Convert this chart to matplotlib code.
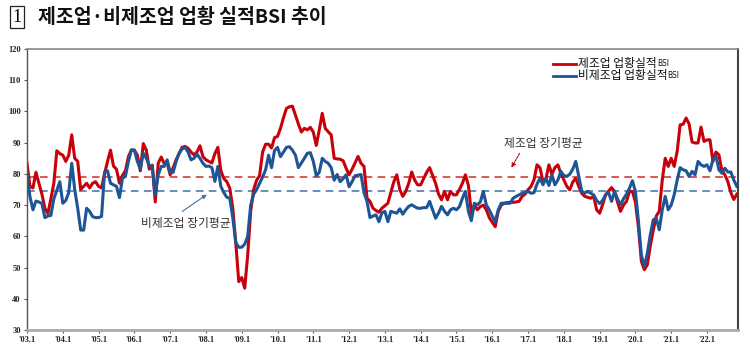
import matplotlib.pyplot as plt
import numpy as np

# 업황실적 BSI, 월별 (2003.1 ~ 2022.11)
mfg = [
    83.4, 76, 75.5, 80.5, 77, 73.5, 69, 67.3, 72, 77, 87.4, 86.5,          # 2003
    86, 84, 86, 92.5, 85, 84, 75, 76, 77, 75.5, 77, 77.5,                  # 2004
    76, 75.5, 80, 84, 87.6, 82.5, 81.5, 77, 79.5, 81, 85.5, 87.6,          # 2005
    87.6, 86, 81, 89.7, 87.6, 81.5, 82.8, 71, 83.4, 85.4, 83.3, 83.5,      # 2006
    79.7, 82, 84.5, 86.5, 88.5, 88.8, 88.2, 87, 86.1, 87, 89, 85.5,        # 2007
    84.5, 84, 83.5, 86.5, 88.5, 81, 78.5, 77.5, 75.4, 69, 58, 45.5,        # 2008
    46.8, 43.4, 54, 68, 75, 78, 79.5, 87, 89.5, 89.5, 88.3, 91.6,          # 2009
    92, 94.6, 98, 101, 101.5, 101.7, 98.8, 96, 93.4, 94.6, 94.1, 94.9,     # 2010
    93.4, 89.1, 94.1, 99.4, 94.6, 93.5, 92.5, 85, 84.8, 84.7, 84.2, 81.8,  # 2011
    79.7, 81.5, 83.5, 85.6, 83.4, 82.4, 72.2, 71.2, 69, 68.3, 67.7, 69,    # 2012
    69.8, 70.6, 74, 77.5, 79.7, 75, 72.8, 74.4, 77, 80.6, 78, 76.5,        # 2013
    76.5, 78.5, 80.5, 82, 79.5, 77, 73.5, 71.7, 74.4, 71.7, 74.4, 73.3,    # 2014
    73.3, 75, 77, 79.7, 76.3, 67.4, 70, 68.5, 69.5, 70, 68.5, 66,          # 2015
    64.5, 63.1, 68, 70, 70.6, 70.8, 70.9, 70.9, 71, 71.2, 72.8, 73.5,      # 2016
    74.9, 76, 78.1, 82.9, 82, 77.6, 78.4, 82.9, 79.9, 82, 82.9, 80.2,      # 2017
    78.1, 76, 74.9, 77.4, 78.6, 76, 73.8, 72.8, 72.5, 72.2, 72.8, 68.5,    # 2018
    67.4, 70.1, 73.3, 74.5, 75.6, 74.4, 71, 68, 70, 71.2, 74.4, 74.4,      # 2019
    71, 63, 52, 49.3, 50.9, 57, 62, 66.5, 68, 78, 85, 82.4,                # 2020
    85, 82.4, 87.2, 95.7, 95.9, 97.9, 96, 90.2, 89.9, 89.9, 95, 90.4,      # 2021
    90.9, 90.9, 84, 87, 86.1, 81, 79.7, 77.5, 74, 71.8, 73.5,              # 2022
]
non_mfg = [
    80, 72.7, 68.5, 71.3, 71, 70.5, 66, 66.5, 66.7, 72, 74.8, 77.5,        # 2003
    70.6, 71.5, 74, 83.4, 75, 69, 62, 62, 69, 68, 66.3, 66,                # 2004
    66, 66.4, 80.5, 81, 77, 76.5, 76, 72.4, 78.6, 79.2, 84, 87.7,          # 2005
    87.6, 84, 81.6, 86.6, 85, 82.7, 82.4, 73.3, 79.7, 82.4, 82.4, 84.5,    # 2006
    80.5, 80.5, 84, 86.6, 88, 88.5, 87, 84.5, 85, 86.3, 85, 83.4,          # 2007
    82.4, 82.5, 82, 77.6, 82.4, 76, 74, 72.5, 72.2, 66, 58, 56.5,          # 2008
    56.5, 57.5, 60, 70, 73.5, 75, 77, 79, 81.3, 86, 82, 87.5,              # 2009
    88.5, 85.5, 87, 88.5, 88.7, 87.6, 86, 82, 83.5, 85, 86.6, 86.8,        # 2010
    84, 79.4, 80.5, 85, 84, 83.4, 82, 78, 79.8, 77.5, 78.5, 79.7,          # 2011
    75.9, 77.5, 79.4, 79.6, 79.8, 74, 71.2, 66, 66.5, 66.9, 64.7, 67.5,    # 2012
    68, 64.7, 68, 67.7, 67.4, 68.8, 67.1, 68.5, 69.6, 70.1, 69.5, 69,      # 2013
    69, 69.2, 69.2, 71.2, 68.5, 65.8, 67.5, 69.6, 68, 66.9, 68.5, 69,      # 2014
    68.5, 69.5, 72.2, 74.4, 68, 65, 70.6, 70.1, 71, 74.4, 70.1, 68.5,      # 2015
    66.5, 64.7, 68.5, 70.6, 70.6, 70.6, 70.6, 72.2, 72.8, 73.3, 73.8, 74,  # 2016
    74.4, 73.8, 74, 76.7, 78.6, 76.5, 78.6, 76.3, 79.7, 76.5, 78, 80.8,    # 2017
    79.5, 79.2, 79.9, 81.5, 84, 79.2, 74.5, 73.8, 74.4, 73.8, 73.3, 71.5,  # 2018
    70.5, 71.5, 73.3, 74, 71.2, 74.4, 72, 70.1, 72, 73.5, 75.4, 77.8,      # 2019
    74.4, 65, 54, 50.3, 54.6, 60.5, 65.3, 65.8, 62.1, 68.5, 72.8, 68.5,    # 2020
    70, 73.3, 78, 82, 81.3, 81, 79.2, 80.8, 79.7, 84, 82.9, 82.4,          # 2021
    82.9, 81, 84.5, 85.8, 81.3, 80.2, 81.8, 80.6, 80.6, 78, 76,            # 2022
]
mfg_avg = 79.1
non_mfg_avg = 74.6
years = ["'%02d.1" % (y % 100) for y in range(2003, 2023)]

red = '#C8000A'
blue = '#1D5596'
kfont = ['Noto Sans CJK KR', 'DejaVu Sans']

fig = plt.figure(figsize=(7.5, 3.53), dpi=100)
ax = fig.add_axes([27/750, 1-330/353, 711/750, 281/353])

x = np.arange(len(mfg))
ax.axhline(mfg_avg, color='#D42A2A', lw=1.1, ls=(0, (5, 3.5)))
ax.axhline(non_mfg_avg, color='#3F6FAE', lw=1.1, ls=(0, (5, 3.5)))
ax.plot(x, mfg, color=red, lw=2.2, solid_joinstyle='round')
ax.plot(np.arange(len(non_mfg)), non_mfg, color=blue, lw=2.2, solid_joinstyle='round')

ax.set_xlim(0, len(mfg) - 0.6)
ax.set_ylim(30, 120)
ax.set_yticks(range(30, 121, 10))
ax.set_xticks(range(0, len(mfg), 12))
ax.set_xticklabels(years)
for lab in ax.get_yticklabels() + ax.get_xticklabels():
    lab.set_fontfamily('Liberation Serif')
    lab.set_fontweight('bold')
    lab.set_fontsize(6)
    lab.set_color('#222222')
ax.tick_params(axis='both', length=2.5, width=0.8, color='#555555', pad=2)

ax.spines['left'].set_color('#555555')
ax.spines['left'].set_linewidth(1)
ax.spines['bottom'].set_color('#AAAAAA')
ax.spines['bottom'].set_linewidth(2)
ax.spines['top'].set_color('#888888')
ax.spines['top'].set_linewidth(1.2)
ax.spines['right'].set_color('#444444')
ax.spines['right'].set_linewidth(1.5)

# legend
def to_ax(px, py):
    return ((px - 27) / 711, (330 - py) / 281)

for py, col, lab in [(64, red, '제조업 업황실적'), (76, blue, '비제조업 업황실적')]:
    x0, y0 = to_ax(553, py)
    x1, _ = to_ax(576, py)
    ax.plot([x0, x1], [y0, y0], color=col, lw=2, transform=ax.transAxes, clip_on=False)
    tx, _ = to_ax(578, py)
    t = ax.text(tx, y0, lab, transform=ax.transAxes, fontsize=8.5, family=kfont,
                va='center', ha='left', color='#111111')
    ax.annotate('BSI', xy=(1, 0.22), xycoords=t, fontsize=5.5, family='DejaVu Sans',
                va='bottom', ha='left', color='#111111')

# long-run average annotations
tx, ty = to_ax(543, 143)
ax.text(tx, ty, '제조업 장기평균', transform=ax.transAxes, fontsize=8.5,
        family=kfont, ha='center', va='center', color='#333333')
ax.annotate('', xy=to_ax(510, 170), xytext=to_ax(521, 151),
            xycoords='axes fraction', textcoords='axes fraction',
            arrowprops=dict(arrowstyle='-|>', color='#C8000A', lw=0.8,
                            ls=(0, (2, 1)), mutation_scale=6))
tx, ty = to_ax(186, 223)
ax.text(tx, ty, '비제조업 장기평균', transform=ax.transAxes, fontsize=8.5,
        family=kfont, ha='center', va='center', color='#333333')
ax.annotate('', xy=to_ax(209, 193), xytext=to_ax(180, 213),
            xycoords='axes fraction', textcoords='axes fraction',
            arrowprops=dict(arrowstyle='-|>', color='#3F6FAE', lw=0.8,
                            mutation_scale=6))

# title
fig.text(17/750, 1-17/353, '1', fontsize=13, family='Liberation Serif',
         ha='center', va='center',
         bbox=dict(boxstyle='square,pad=0.12', fc='none', ec='#222222', lw=0.9))
fig.text(38/750, 1-17/353, '제조업·비제조업 업황 실적BSI 추이', fontsize=14,
         family=kfont, fontweight='bold', ha='left', va='center', color='#111111')

fig.savefig('out.png', dpi=100)
